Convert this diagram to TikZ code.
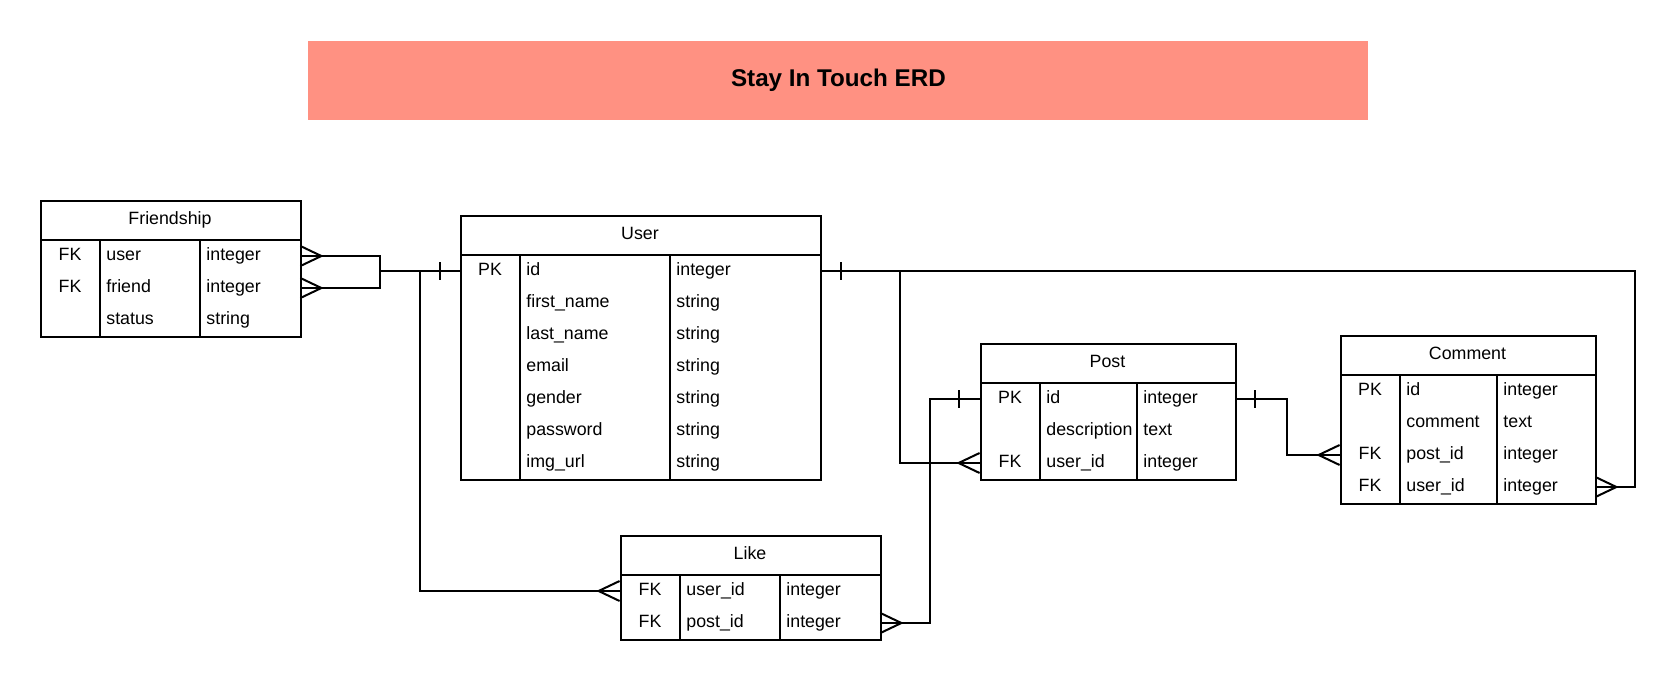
\documentclass[tikz,border=0pt]{standalone}
\usepackage{fontspec}
\setmainfont{Liberation Sans}
\usetikzlibrary{calc}
\definecolor{salmon}{RGB}{255,145,130}
\tikzset{
  x=0.5pt, y=-0.5pt,
  erd/.style={line width=1pt, line join=miter},
  tbl/.style={draw, line width=1pt, inner sep=0pt, fill=white},
  rowbox/.style={draw=none, inner sep=0pt, minimum height=16pt},
  cell/.style={inner sep=0pt, font=\fontsize{8.9}{10}\selectfont, text height=6.5pt, text depth=1.8pt},
  hdr/.style={cell},
  titlebox/.style={fill=salmon, inner sep=0pt, anchor=north west, font=\fontsize{12.1}{14}\selectfont\bfseries}
}
\newcommand\erdtable[9]{%
  \pgfmathsetmacro\xa{#2}%
  \pgfmathsetmacro\xb{#2+#4}%
  \pgfmathsetmacro\xc{#2+#4+#5}%
  \pgfmathsetmacro\xd{#2+#4+#5+#6}%
  \pgfmathsetmacro\yb{#3+40}%
  \pgfmathsetmacro\yc{#3+40+32*#8}%
  \node[tbl, minimum width={(#4+#5+#6)*0.5pt}, minimum height={(40+32*#8)*0.5pt}, anchor=north west] (#1) at (\xa,#3) {};
  \node[hdr] (#1-h) at ({(\xa+\xd)/2},#3+20) {#7};
  \draw[erd] (\xa,\yb) -- (\xd,\yb);
  \draw[erd] (\xb,\yb) -- (\xb,\yc);
  \draw[erd] (\xc,\yb) -- (\xc,\yc);
  \foreach \k/\f/\t [count=\i] in {#9} {
    \node[rowbox, minimum width={(#4+#5+#6)*0.5pt}] (#1-\i) at ({(\xa+\xd)/2},\yb+32*\i-16) {};
    \node[cell] (#1-\i-k) at ({\xa+#4/2},\yb+32*\i-16) {\k};
    \node[cell, anchor=west] (#1-\i-f) at (\xb+6,\yb+32*\i-16) {\f};
    \node[cell, anchor=west] (#1-\i-t) at (\xc+6,\yb+32*\i-16) {\t};
  }
}
% crow's foot on the east side of a box (line comes from the right)
\newcommand\manyE[1]{\draw[erd] ([shift={(0,-10)}]#1) -- ([shift={(21,0)}]#1) -- ([shift={(0,10)}]#1);}
% crow's foot on the west side of a box (line comes from the left)
\newcommand\manyW[1]{\draw[erd] ([shift={(0,-10)}]#1) -- ([shift={(-21,0)}]#1) -- ([shift={(0,10)}]#1);}
% single bar at distance #2 (signed) from the box edge
\newcommand\oneBar[2]{\draw[erd] ([shift={(#2,-9)}]#1) -- ([shift={(#2,9)}]#1);}
\begin{document}
\begin{tikzpicture}
\fill[white] (0,0) rectangle (1676,680);
\useasboundingbox (0,0) rectangle (1676,680);

\node[titlebox, minimum width=530pt, minimum height=39.5pt] (title) at (308,41) {\raisebox{3.3pt}{Stay In Touch ERD}};

\erdtable{F}{40}{200}{60}{100}{100}{Friendship}{3}{FK/user/integer, FK/friend/integer, {}/status/string}
\erdtable{U}{460}{215}{60}{150}{150}{User}{7}{PK/id/integer, {}/first\_name/string, {}/last\_name/string, {}/email/string, {}/gender/string, {}/password/string, {}/img\_url/string}
\erdtable{P}{980}{343}{60}{97}{98}{Post}{3}{PK/id/integer, {}/description/text, FK/user\_id/integer}
\erdtable{C}{1340}{335}{60}{97}{98}{Comment}{4}{PK/id/integer, {}/comment/text, FK/post\_id/integer, FK/user\_id/integer}
\erdtable{L}{620}{535}{60}{100}{100}{Like}{2}{FK/user\_id/integer, FK/post\_id/integer}

% junction / bend coordinates
\coordinate (jF) at (380,271);
\coordinate (jL) at (420,271);
\coordinate (jP) at (900,271);
\coordinate (cR) at (1635,271);
\coordinate (kL) at (930,500);
\coordinate (kC) at (1287,430);

% Friendship -> User
\draw[erd] (F-1.east) -| (jF) -- (U-1.west);
\draw[erd] (F-2.east) -| (jF);
\manyE{F-1.east}
\manyE{F-2.east}
\oneBar{U-1.west}{-20}

% User -> Like
\draw[erd] (jL) |- (L-1.west);
\manyW{L-1.west}

% User -> Comment, User -> Post
\draw[erd] (U-1.east) -- (cR) |- (C-4.east);
\oneBar{U-1.east}{21}
\manyE{C-4.east}
\draw[erd] (jP) |- (P-3.west);
\manyW{P-3.west}

% Post -> Like
\draw[erd] (P-1.west) -| (kL) |- (L-2.east);
\oneBar{P-1.west}{-21}
\manyE{L-2.east}

% Post -> Comment
\draw[erd] (P-1.east) -| (kC) |- (C-3.west);
\oneBar{P-1.east}{20}
\manyW{C-3.west}
\end{tikzpicture}
\end{document}
